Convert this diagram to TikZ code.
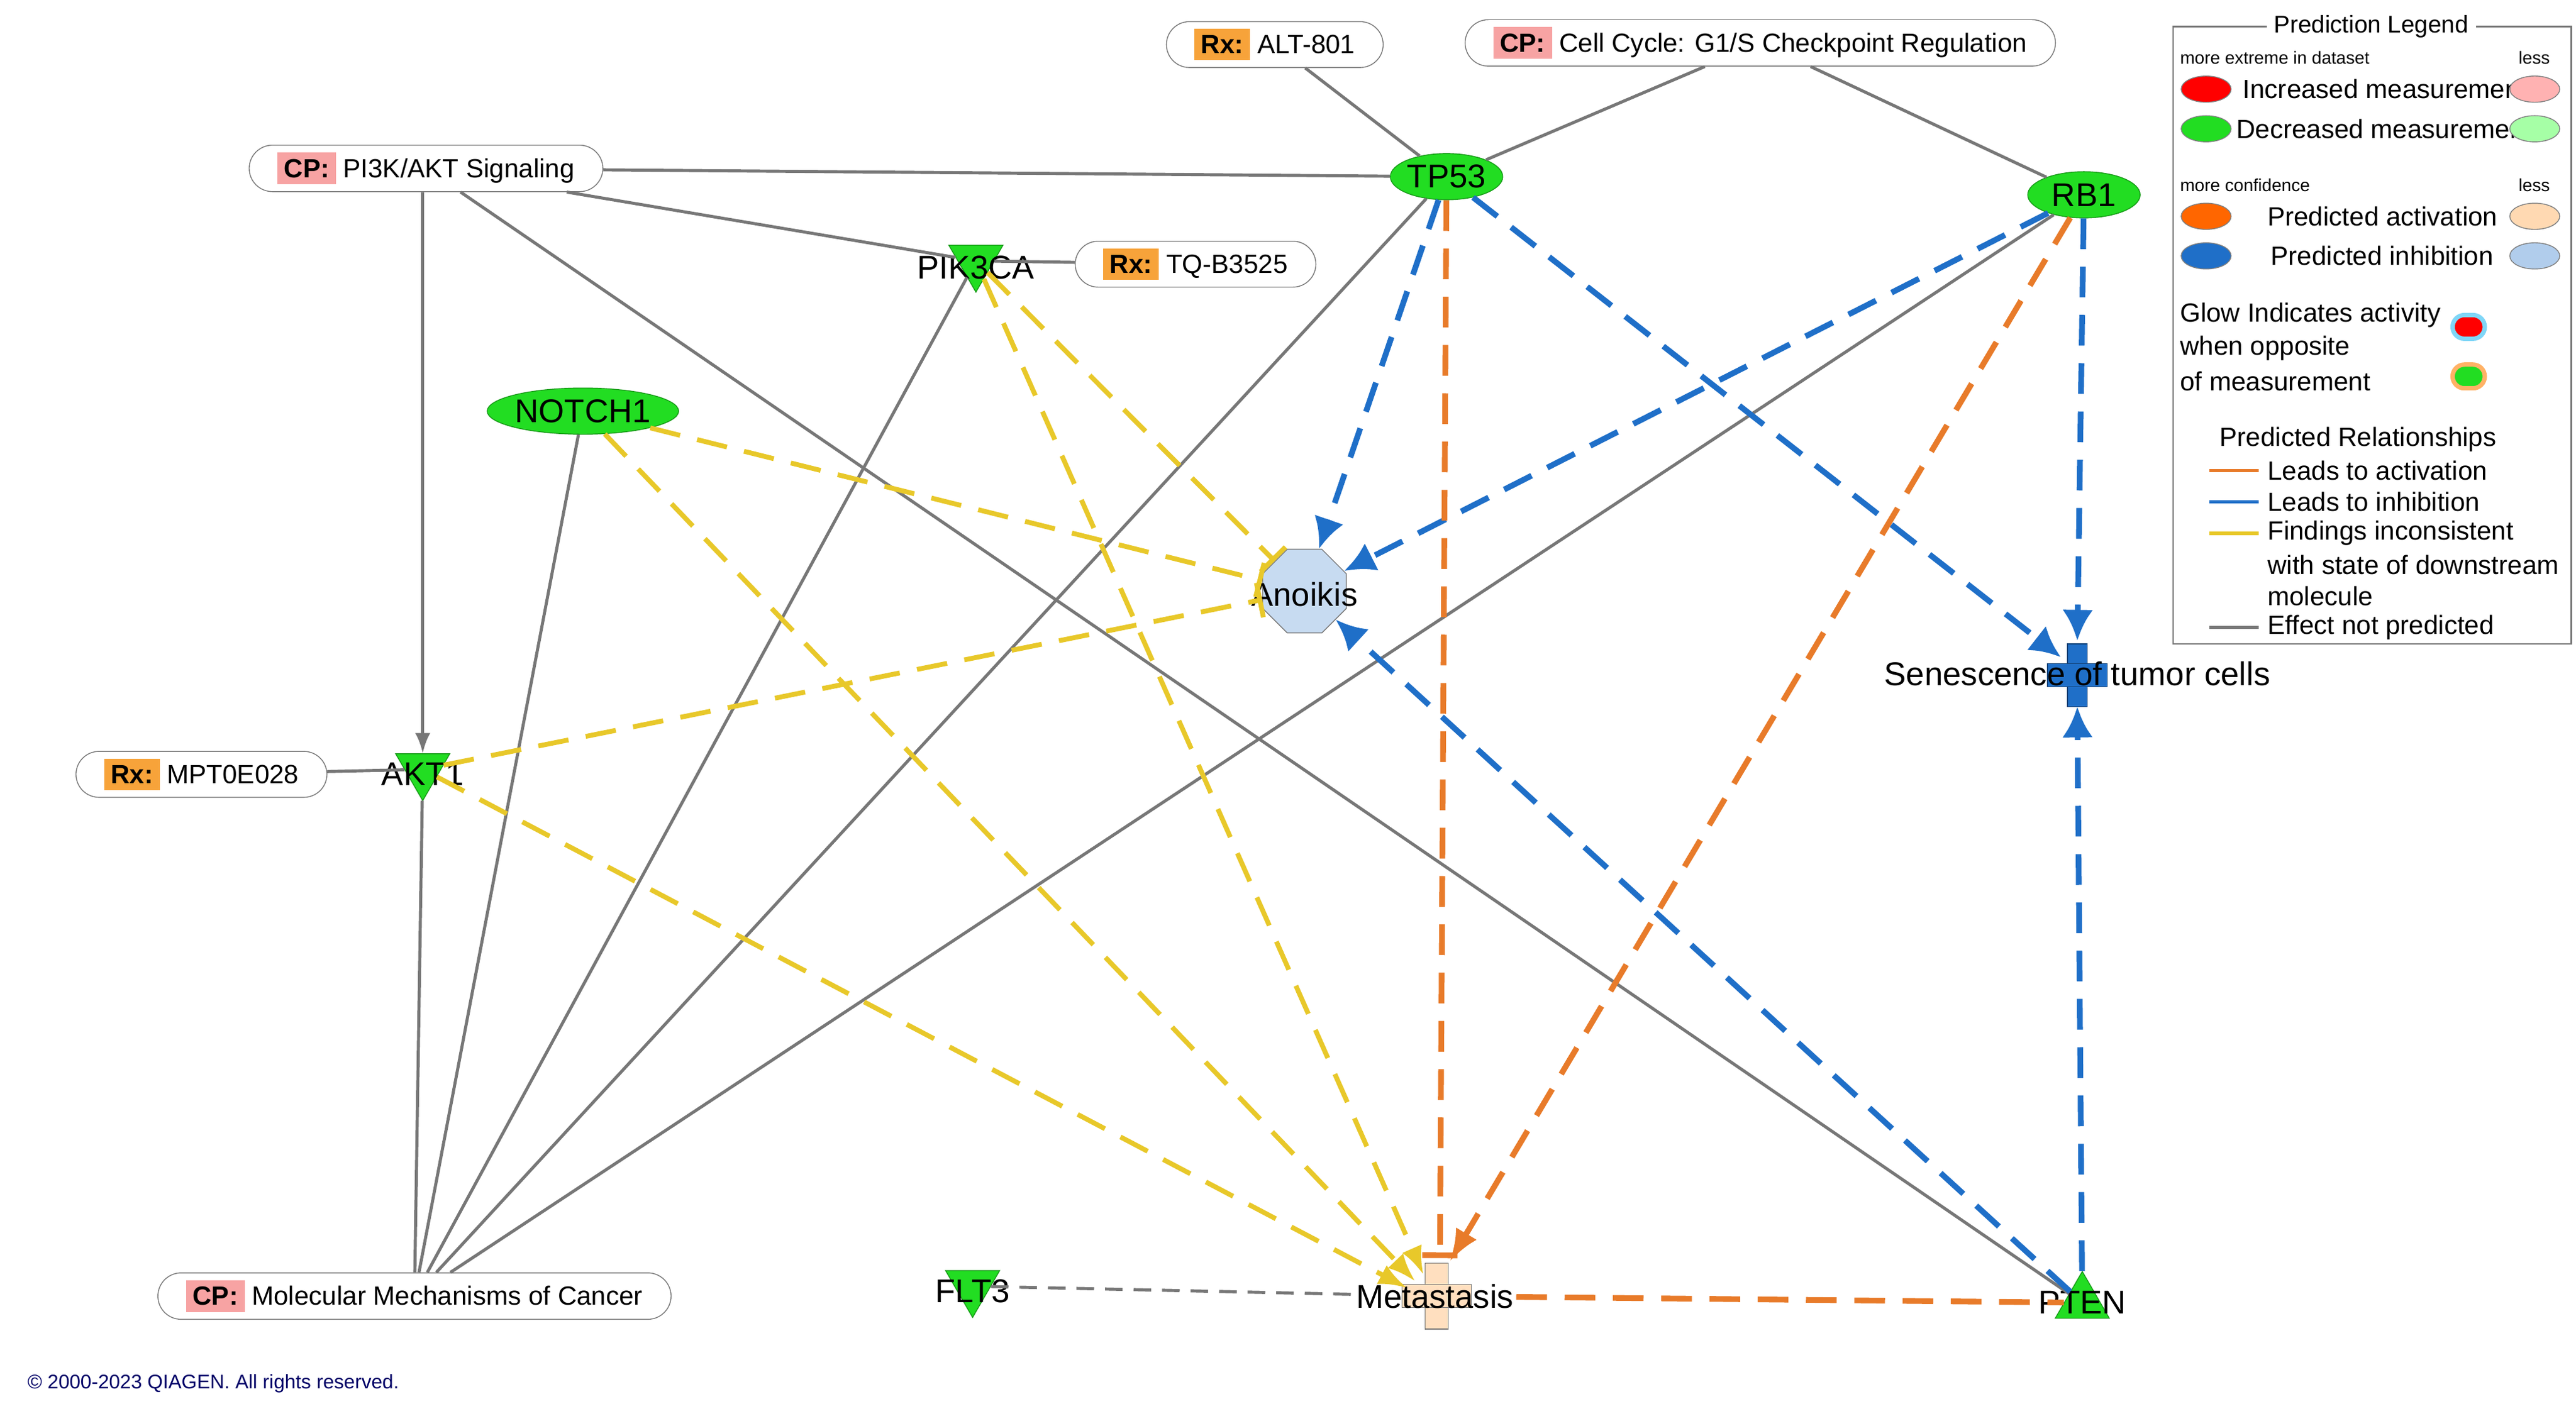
\documentclass[tikz,border=0pt]{standalone}
\usepackage{fontspec}
\setmainfont{Liberation Sans}
\usetikzlibrary{shapes.geometric,shapes.misc,arrows.meta}
\definecolor{gfill}{HTML}{22DD22}
\definecolor{orng}{HTML}{E87B2A}
\definecolor{blu}{HTML}{1F6FC8}
\definecolor{ylw}{HTML}{E8C82A}
\definecolor{gry}{HTML}{777777}
\definecolor{rxc}{HTML}{F7A33A}
\definecolor{cpc}{HTML}{F7A3A3}
\tikzset{>=Latex,
  gene/.style={ellipse,draw=gfill!70!black,fill=gfill,minimum width=1.8cm,minimum height=0.74cm,inner sep=0pt,font=\fontsize{15}{15}\selectfont},
  tri/.style={regular polygon,regular polygon sides=3,draw=gfill!70!black,fill=gfill,minimum size=1.0cm,inner sep=0pt},
  pill/.style={rounded rectangle,draw=gry,fill=white,minimum height=0.66cm,inner xsep=10pt,font=\fontsize{12}{12}\selectfont},
  lbl/.style={font=\fontsize{15}{15}\selectfont,inner sep=1pt},
  plain/.style={draw=gry,line width=1.4pt},
  act/.style={draw=orng,line width=2.6pt,dash pattern=on 14pt off 8pt},
  inh/.style={draw=blu,line width=2.6pt,dash pattern=on 14pt off 8pt,-{Latex[length=14pt,width=14pt]}},
  inc/.style={draw=ylw,line width=2.2pt,dash pattern=on 14pt off 8pt},
  lg/.style={font=\fontsize{12}{12}\selectfont,anchor=west,inner sep=0pt},
  lgs/.style={font=\fontsize{8}{8}\selectfont,anchor=west,inner sep=0pt},
  dot/.style={ellipse,draw=black!50,fill=#1,minimum width=0.8cm,minimum height=0.42cm},
}
\newcommand{\tagrx}{\colorbox{rxc}{\bfseries Rx:}}
\newcommand{\tagcp}{\colorbox{cpc}{\bfseries CP:}}
\begin{document}
\begin{tikzpicture}[x=0.02644cm,y=-0.02644cm]
\useasboundingbox (0,0) rectangle (1560,850);
% shapes without text
\node[regular polygon,regular polygon sides=8,draw=gry,fill=blu!25,minimum size=1.45cm] (oct) at (790,358) {};
\begin{scope}[draw=blu!60!black,fill=blu]
\filldraw (1252,390) rectangle (1264,428);
\filldraw (1240,402) rectangle (1276,416);
\end{scope}
\begin{scope}[draw=gry,fill=orange!25]
\filldraw (863,765) rectangle (877,805);
\filldraw (849,778) rectangle (891,792);
\end{scope}
% nodes
\node[pill] (alt) at (772,27) {\tagrx\ ALT-801};
\node[pill,minimum width=8.2cm] (cyc) at (1066,26) {\tagcp\ Cell Cycle: G1/S Checkpoint Regulation};
\node[pill,minimum width=5.1cm] (pi3k) at (258,102) {\tagcp\ PI3K/AKT Signaling};
\node[pill,minimum width=3.5cm] (tq) at (724,160) {\tagrx\ TQ-B3525};
\node[pill,minimum width=3.6cm] (mpt) at (122,469) {\tagrx\ MPT0E028};
\node[pill,minimum width=7.2cm] (mmc) at (251,785) {\tagcp\ Molecular Mechanisms of Cancer};
\node[gene] (tp53) at (876,107) {TP53};
\node[gene] (rb1) at (1262,118) {RB1};
\node[gene] (notch) at (353,249) {NOTCH1};
\node[tri,shape border rotate=180] (pik) at (591,158) {};
\node[tri,shape border rotate=180] (akt) at (256,466) {};
\node[tri,shape border rotate=180] (flt) at (589,779) {};
\node[tri] (pten) at (1261,789) {};
\node[lbl] at (591,162) {PIK3CA};
\node[lbl] at (256,469) {AKT1};
\node[lbl] at (589,782) {FLT3};
\node[lbl] at (1261,789) {PTEN};
\node[lbl] (ano) at (790,360) {Anoikis};
\node[lbl] (sen) at (1258,408) {Senescence of tumor cells};
\node[lbl] (met) at (869,785) {Metastasis};
% gray relations
\draw[plain] (alt) -- (tp53);
\draw[plain] (cyc) -- (tp53);
\draw[plain] (cyc) -- (rb1);
\draw[plain] (pi3k) -- (tp53);
\draw[plain] (pi3k) -- (pik);
\draw[plain] (pik) -- (tq);
\draw[plain,->] (pi3k.south -| akt) -- (akt);
\draw[plain] (pi3k) -- (pten);
\draw[plain] (mpt) -- (akt);
\draw[plain] (mmc) -- (notch);
\draw[plain] (mmc) -- (akt);
\draw[plain] (mmc) -- (pik);
\draw[plain] (mmc) -- (tp53);
\draw[plain] (mmc) -- (rb1);
\draw[plain,dash pattern=on 8pt off 5pt] (flt) -- (met);
% blue
\draw[inh] (tp53) -- (oct);
\draw[inh] (rb1) -- (oct);
\draw[inh] (pten) -- (oct);
\draw[inh] (tp53) -- (1248,398);
\draw[inh] (rb1) -- (1258,388);
\draw[inh] (pten) -- (1258,428);
% orange
\draw[act,-{Bar[width=16pt]}] (tp53) -- (872,762);
\draw[act,->] (rb1) -- (878,764);
\draw[act] (met) -- (pten);
% yellow
\draw[inc,-{Bar[width=16pt]}] (notch) -- (oct);
\draw[inc,-{Bar[width=16pt]}] (pik) -- (oct);
\draw[inc,-{Bar[width=16pt]}] (akt) -- (oct);
\draw[inc,->] (notch) -- (857,776);
\draw[inc,->] (pik) -- (862,772);
\draw[inc,->] (akt) -- (852,780);
\node[font=\fontsize{9}{9}\selectfont,text=blue!40!black,anchor=west] at (12,838) {© 2000-2023 QIAGEN. All rights reserved.};
% legend
\draw[gry,line width=0.8pt] (1316,16) rectangle (1557,390);
\node[fill=white,font=\fontsize{11}{11}\selectfont] at (1436,16) {Prediction Legend};
\node[lgs] at (1320,35) {more extreme in dataset};
\node[lgs] at (1525,35) {less};
\node[dot=red] at (1336,54) {};
\node[lg] at (1358,54) {Increased measurement};
\node[dot=red!30] at (1535,54) {};
\node[dot=gfill] at (1336,78) {};
\node[lg] at (1354,78) {Decreased measurement};
\node[dot=green!35] at (1535,78) {};
\node[lgs] at (1320,112) {more confidence};
\node[lgs] at (1525,112) {less};
\node[dot=orange!80!red] at (1336,131) {};
\node[lg] at (1373,131) {Predicted activation};
\node[dot=orange!30] at (1535,131) {};
\node[dot=blu] at (1336,155) {};
\node[lg] at (1375,155) {Predicted inhibition};
\node[dot=blu!35] at (1535,155) {};
\node[lg] at (1320,191) {Glow Indicates activity};
\node[lg] at (1320,211) {when opposite};
\node[lg] at (1320,231) {of measurement};
\node[rounded rectangle,fill=red,draw=cyan!50,line width=2pt,minimum width=0.75cm,minimum height=0.38cm] at (1495,198) {};
\node[rounded rectangle,fill=gfill,draw=orange!60,line width=2pt,minimum width=0.75cm,minimum height=0.38cm] at (1495,228) {};
\node[lg,anchor=center] at (1428,266) {Predicted Relationships};
\draw[orng,line width=1.6pt] (1338,285) -- (1368,285);
\node[lg] at (1373,285) {Leads to activation};
\draw[blu,line width=1.6pt] (1338,304) -- (1368,304);
\node[lg] at (1373,304) {Leads to inhibition};
\draw[ylw,line width=1.6pt] (1338,323) -- (1368,323);
\node[lg] at (1373,323) {Findings inconsistent};
\node[lg] at (1373,342) {with state of downstream};
\node[lg] at (1373,361) {molecule};
\draw[gry,line width=1.6pt] (1338,380) -- (1368,380);
\node[lg] at (1373,380) {Effect not predicted};
\end{tikzpicture}
\end{document}
